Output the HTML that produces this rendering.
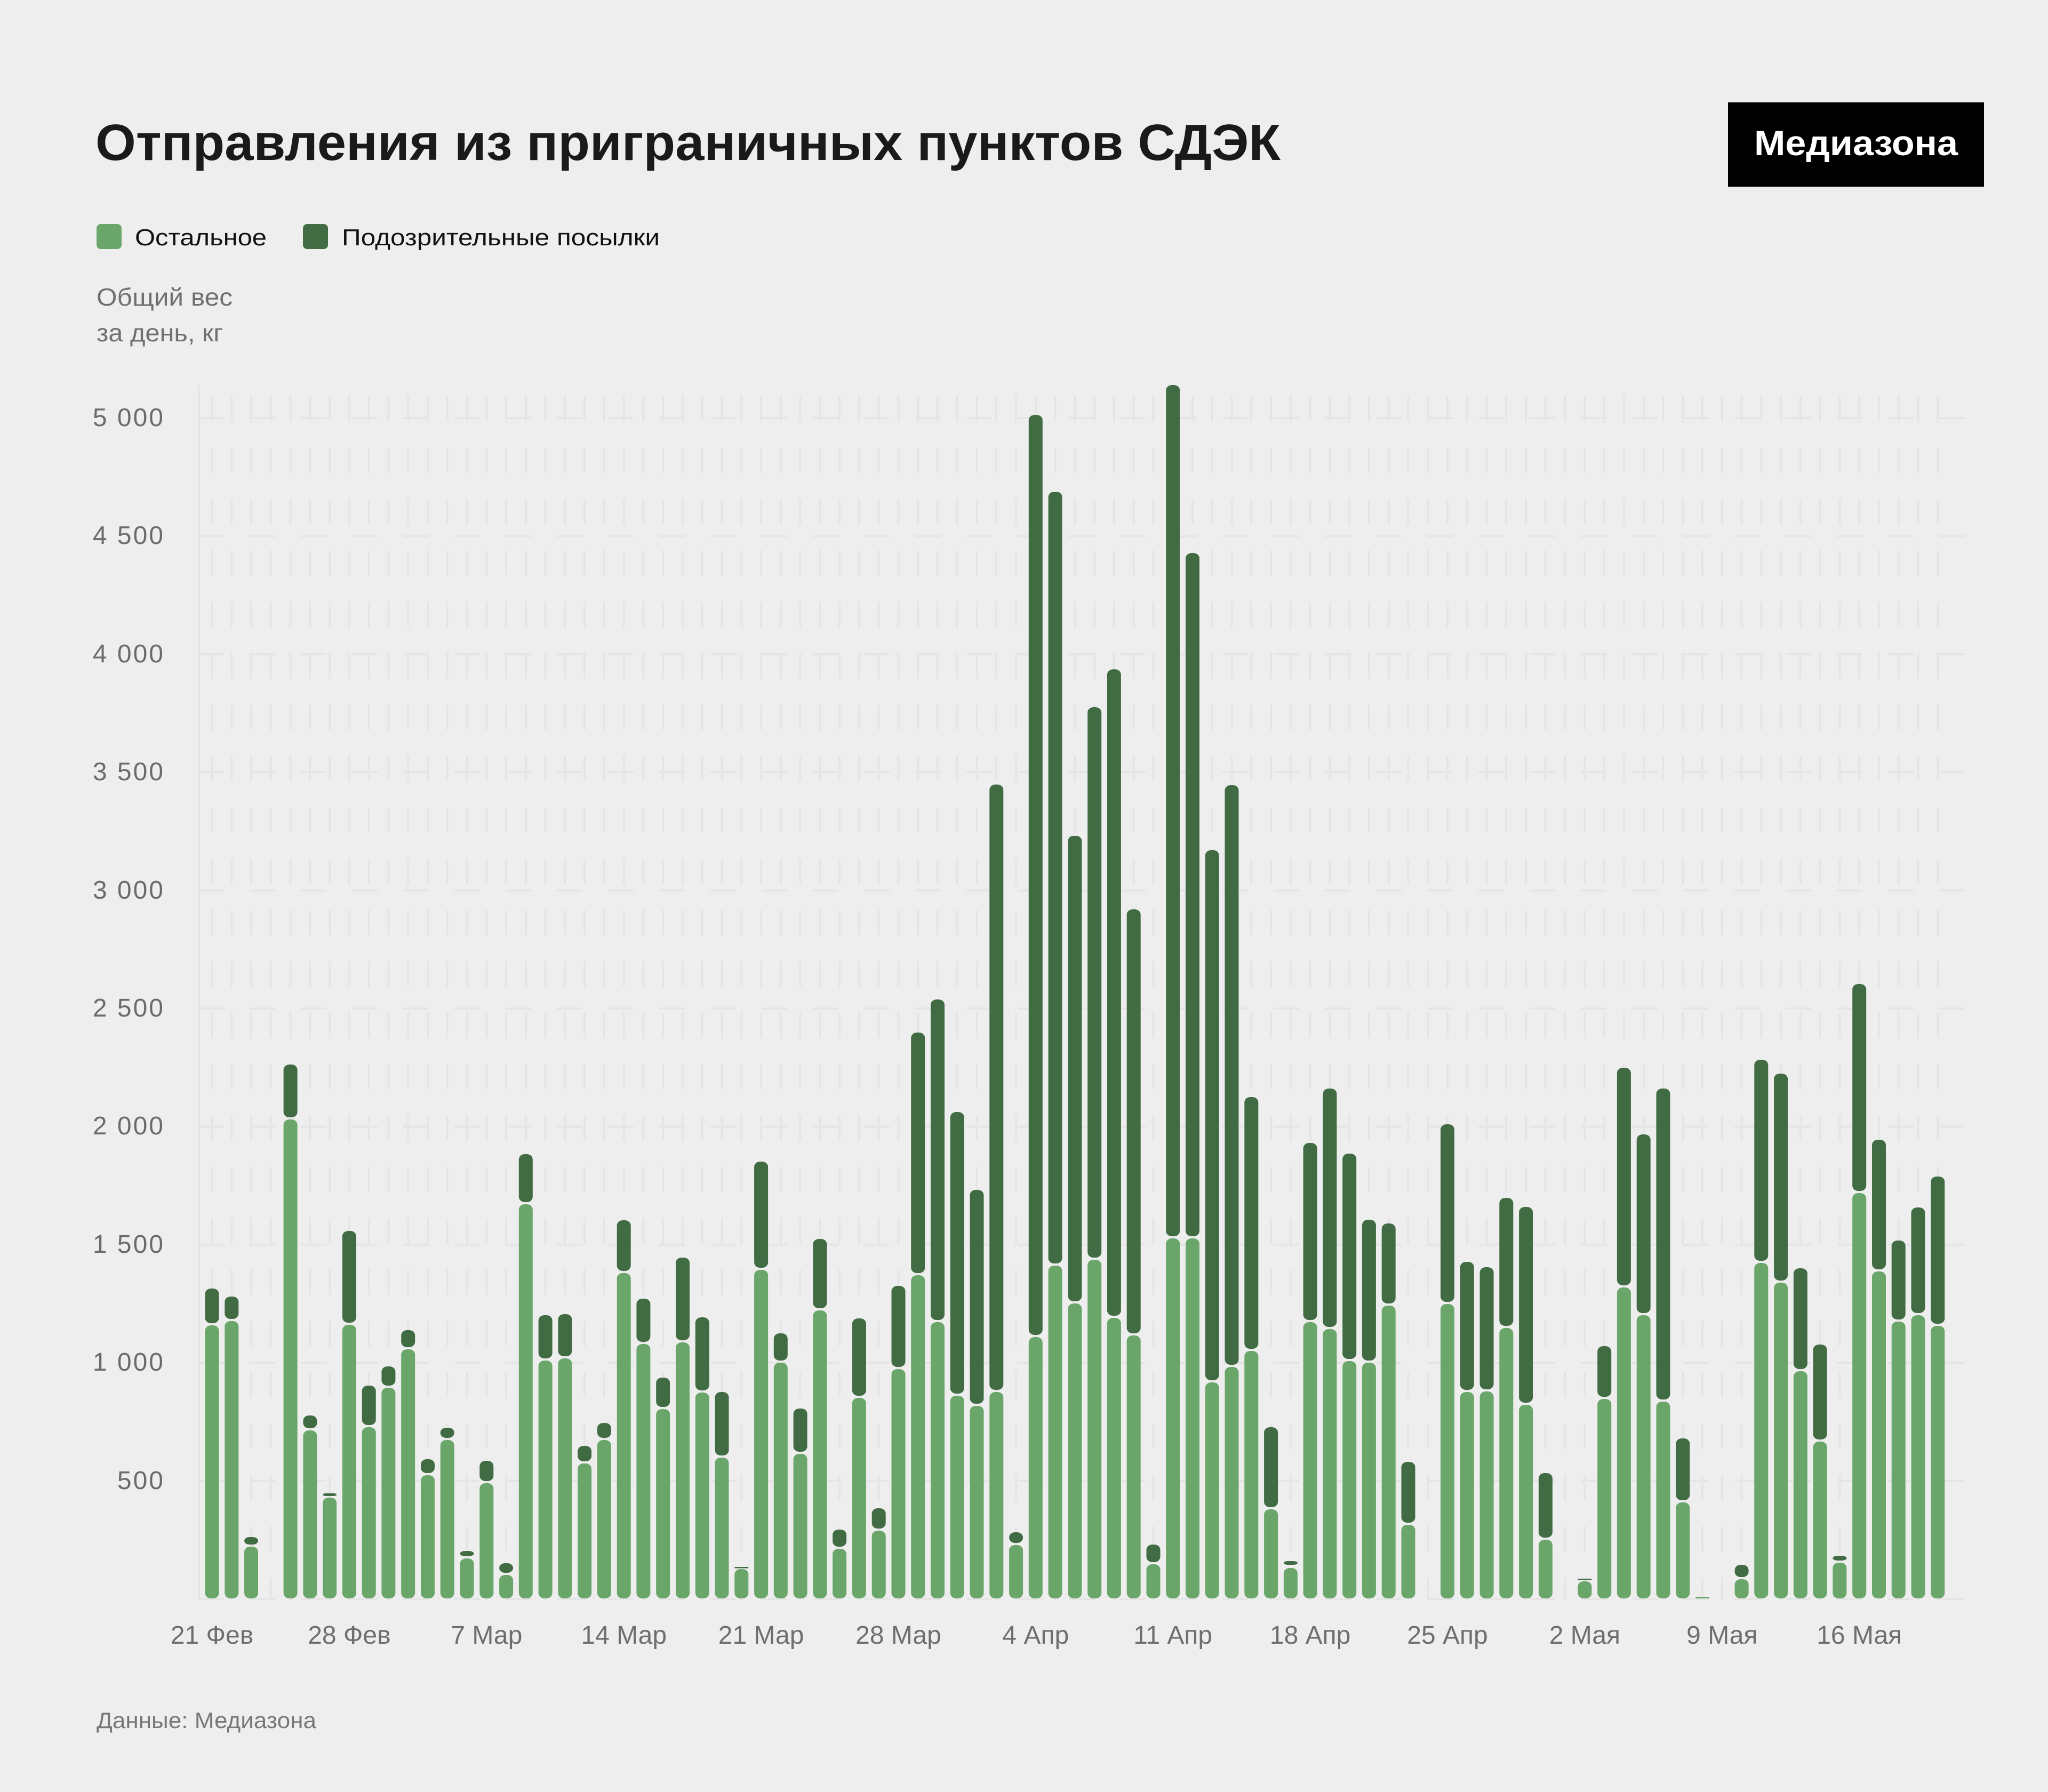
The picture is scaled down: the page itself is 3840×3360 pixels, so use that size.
<!DOCTYPE html>
<html><head><meta charset="utf-8"><style>
html,body{margin:0;padding:0;background:#eeeeee;}
svg{display:block;}
text{font-family:"Liberation Sans","Noto Sans CJK SC",sans-serif;}
</style></head><body>
<svg width="3840" height="3360" viewBox="0 0 3840 3360" xmlns="http://www.w3.org/2000/svg">
<defs>
<pattern id="vg" patternUnits="userSpaceOnUse" x="395.5" y="743" width="36.77" height="96.3"><rect x="0" y="0" width="4" height="48" fill="#e5e5e5"/></pattern>
<pattern id="hg" patternUnits="userSpaceOnUse" x="372" y="782" width="96" height="221.4"><rect x="0" y="0" width="48" height="4" fill="#e5e5e5"/></pattern>
</defs>
<rect width="3840" height="3360" fill="#eeeeee"/>
<text x="179" y="300" font-size="96" font-weight="bold" fill="#1a1a1a" textLength="2222" lengthAdjust="spacingAndGlyphs">Отправления из приграничных пунктов СДЭК</text>
<rect x="3240" y="192" width="480" height="158" fill="#000"/>
<text x="3289" y="291" font-size="66" font-weight="bold" fill="#fff" textLength="382" lengthAdjust="spacingAndGlyphs">Медиазона</text>
<rect x="181" y="420" width="47" height="47" rx="8" fill="#6aa66a"/>
<text x="253" y="460" font-size="44" fill="#111" textLength="247" lengthAdjust="spacingAndGlyphs">Остальное</text>
<rect x="568" y="420" width="47" height="47" rx="8" fill="#416c43"/>
<text x="641" y="460" font-size="44" fill="#111" textLength="596" lengthAdjust="spacingAndGlyphs">Подозрительные посылки</text>
<text x="181" y="573" font-size="46" fill="#707070" textLength="255" lengthAdjust="spacingAndGlyphs">Общий вес</text>
<text x="181" y="640" font-size="46" fill="#707070" textLength="237" lengthAdjust="spacingAndGlyphs">за день, кг</text>
<rect x="373" y="743" width="3280" height="2257" fill="url(#vg)"/>
<rect x="372" y="782" width="3312" height="2222" fill="url(#hg)"/>
<rect x="371" y="722" width="4" height="2278" fill="#e5e5e5"/>
<g font-size="48" fill="#6b6b6b" text-anchor="end" letter-spacing="3">
<text x="309" y="799">5 000</text>
<text x="309" y="1020">4 500</text>
<text x="309" y="1242">4 000</text>
<text x="309" y="1463">3 500</text>
<text x="309" y="1685">3 000</text>
<text x="309" y="1906">2 500</text>
<text x="309" y="2127">2 000</text>
<text x="309" y="2349">1 500</text>
<text x="309" y="2570">1 000</text>
<text x="309" y="2792">500</text>
</g>
<g fill="#6aa66a">
<rect x="384.5" y="2485" width="26" height="512" rx="11" ry="10"/>
<rect x="421.3" y="2477" width="26" height="520" rx="11" ry="10"/>
<rect x="458.0" y="2900" width="26" height="97" rx="11" ry="10"/>
<rect x="531.6" y="2099" width="26" height="898" rx="11" ry="10"/>
<rect x="568.4" y="2682" width="26" height="315" rx="11" ry="10"/>
<rect x="605.1" y="2808" width="26" height="189" rx="11" ry="10"/>
<rect x="641.9" y="2484" width="26" height="513" rx="11" ry="10"/>
<rect x="678.7" y="2676" width="26" height="321" rx="11" ry="10"/>
<rect x="715.4" y="2602" width="26" height="395" rx="11" ry="10"/>
<rect x="752.2" y="2530" width="26" height="467" rx="11" ry="10"/>
<rect x="789.0" y="2766" width="26" height="231" rx="11" ry="10"/>
<rect x="825.7" y="2700" width="26" height="297" rx="11" ry="10"/>
<rect x="862.5" y="2922" width="26" height="75" rx="11" ry="10"/>
<rect x="899.3" y="2781" width="26" height="216" rx="11" ry="10"/>
<rect x="936.1" y="2953" width="26" height="44" rx="11" ry="10"/>
<rect x="972.8" y="2258" width="26" height="739" rx="11" ry="10"/>
<rect x="1009.6" y="2551" width="26" height="446" rx="11" ry="10"/>
<rect x="1046.4" y="2547" width="26" height="450" rx="11" ry="10"/>
<rect x="1083.1" y="2744" width="26" height="253" rx="11" ry="10"/>
<rect x="1119.9" y="2700" width="26" height="297" rx="11" ry="10"/>
<rect x="1156.7" y="2387" width="26" height="610" rx="11" ry="10"/>
<rect x="1193.4" y="2520" width="26" height="477" rx="11" ry="10"/>
<rect x="1230.2" y="2642" width="26" height="355" rx="11" ry="10"/>
<rect x="1267.0" y="2517" width="26" height="480" rx="11" ry="10"/>
<rect x="1303.8" y="2611" width="26" height="386" rx="11" ry="10"/>
<rect x="1340.5" y="2733" width="26" height="264" rx="11" ry="10"/>
<rect x="1377.3" y="2942" width="26" height="55" rx="11" ry="10"/>
<rect x="1414.1" y="2381" width="26" height="616" rx="11" ry="10"/>
<rect x="1450.8" y="2555" width="26" height="442" rx="11" ry="10"/>
<rect x="1487.6" y="2726" width="26" height="271" rx="11" ry="10"/>
<rect x="1524.4" y="2457" width="26" height="540" rx="11" ry="10"/>
<rect x="1561.1" y="2904" width="26" height="93" rx="11" ry="10"/>
<rect x="1597.9" y="2621" width="26" height="376" rx="11" ry="10"/>
<rect x="1634.7" y="2870" width="26" height="127" rx="11" ry="10"/>
<rect x="1671.5" y="2567" width="26" height="430" rx="11" ry="10"/>
<rect x="1708.2" y="2391" width="26" height="606" rx="11" ry="10"/>
<rect x="1745.0" y="2479" width="26" height="518" rx="11" ry="10"/>
<rect x="1781.8" y="2617" width="26" height="380" rx="11" ry="10"/>
<rect x="1818.5" y="2636" width="26" height="361" rx="11" ry="10"/>
<rect x="1855.3" y="2610" width="26" height="387" rx="11" ry="10"/>
<rect x="1892.1" y="2897" width="26" height="100" rx="11" ry="10"/>
<rect x="1928.8" y="2507" width="26" height="490" rx="11" ry="10"/>
<rect x="1965.6" y="2373" width="26" height="624" rx="11" ry="10"/>
<rect x="2002.4" y="2444" width="26" height="553" rx="11" ry="10"/>
<rect x="2039.2" y="2362" width="26" height="635" rx="11" ry="10"/>
<rect x="2075.9" y="2471" width="26" height="526" rx="11" ry="10"/>
<rect x="2112.7" y="2504" width="26" height="493" rx="11" ry="10"/>
<rect x="2149.5" y="2933" width="26" height="64" rx="11" ry="10"/>
<rect x="2186.2" y="2322" width="26" height="675" rx="11" ry="10"/>
<rect x="2223.0" y="2322" width="26" height="675" rx="11" ry="10"/>
<rect x="2259.8" y="2592" width="26" height="405" rx="11" ry="10"/>
<rect x="2296.5" y="2563" width="26" height="434" rx="11" ry="10"/>
<rect x="2333.3" y="2533" width="26" height="464" rx="11" ry="10"/>
<rect x="2370.1" y="2830" width="26" height="167" rx="11" ry="10"/>
<rect x="2406.9" y="2940" width="26" height="57" rx="11" ry="10"/>
<rect x="2443.6" y="2479" width="26" height="518" rx="11" ry="10"/>
<rect x="2480.4" y="2492" width="26" height="505" rx="11" ry="10"/>
<rect x="2517.2" y="2552" width="26" height="445" rx="11" ry="10"/>
<rect x="2553.9" y="2555" width="26" height="442" rx="11" ry="10"/>
<rect x="2590.7" y="2448" width="26" height="549" rx="11" ry="10"/>
<rect x="2627.5" y="2859" width="26" height="138" rx="11" ry="10"/>
<rect x="2701.0" y="2445" width="26" height="552" rx="11" ry="10"/>
<rect x="2737.8" y="2610" width="26" height="387" rx="11" ry="10"/>
<rect x="2774.6" y="2609" width="26" height="388" rx="11" ry="10"/>
<rect x="2811.3" y="2490" width="26" height="507" rx="11" ry="10"/>
<rect x="2848.1" y="2634" width="26" height="363" rx="11" ry="10"/>
<rect x="2884.9" y="2887" width="26" height="110" rx="11" ry="10"/>
<rect x="2958.4" y="2965" width="26" height="32" rx="11" ry="10"/>
<rect x="2995.2" y="2623" width="26" height="374" rx="11" ry="10"/>
<rect x="3031.9" y="2414" width="26" height="583" rx="11" ry="10"/>
<rect x="3068.7" y="2466" width="26" height="531" rx="11" ry="10"/>
<rect x="3105.5" y="2628" width="26" height="369" rx="11" ry="10"/>
<rect x="3142.3" y="2817" width="26" height="180" rx="11" ry="10"/>
<rect x="3179.0" y="2994" width="26" height="3" rx="2" ry="1.5"/>
<rect x="3252.6" y="2961" width="26" height="36" rx="11" ry="10"/>
<rect x="3289.3" y="2368" width="26" height="629" rx="11" ry="10"/>
<rect x="3326.1" y="2405" width="26" height="592" rx="11" ry="10"/>
<rect x="3362.9" y="2571" width="26" height="426" rx="11" ry="10"/>
<rect x="3399.6" y="2703" width="26" height="294" rx="11" ry="10"/>
<rect x="3436.4" y="2930" width="26" height="67" rx="11" ry="10"/>
<rect x="3473.2" y="2237" width="26" height="760" rx="11" ry="10"/>
<rect x="3510.0" y="2384" width="26" height="613" rx="11" ry="10"/>
<rect x="3546.7" y="2478" width="26" height="519" rx="11" ry="10"/>
<rect x="3583.5" y="2466" width="26" height="531" rx="11" ry="10"/>
<rect x="3620.3" y="2486" width="26" height="511" rx="11" ry="10"/>
</g>
<g fill="#416c43">
<rect x="384.5" y="2416" width="26" height="65" rx="11" ry="10"/>
<rect x="421.3" y="2431" width="26" height="42" rx="11" ry="10"/>
<rect x="458.0" y="2882" width="26" height="14" rx="10" ry="7"/>
<rect x="531.6" y="1996" width="26" height="99" rx="11" ry="10"/>
<rect x="568.4" y="2654" width="26" height="24" rx="11" ry="10"/>
<rect x="605.1" y="2800" width="26" height="5" rx="6" ry="2.5"/>
<rect x="641.9" y="2308" width="26" height="172" rx="11" ry="10"/>
<rect x="678.7" y="2598" width="26" height="74" rx="11" ry="10"/>
<rect x="715.4" y="2562" width="26" height="36" rx="11" ry="10"/>
<rect x="752.2" y="2494" width="26" height="32" rx="11" ry="10"/>
<rect x="789.0" y="2736" width="26" height="26" rx="11" ry="10"/>
<rect x="825.7" y="2677" width="26" height="19" rx="11" ry="9"/>
<rect x="862.5" y="2908" width="26" height="10" rx="10" ry="5"/>
<rect x="899.3" y="2739" width="26" height="38" rx="11" ry="10"/>
<rect x="936.1" y="2931" width="26" height="18" rx="11" ry="9"/>
<rect x="972.8" y="2164" width="26" height="90" rx="11" ry="10"/>
<rect x="1009.6" y="2466" width="26" height="81" rx="11" ry="10"/>
<rect x="1046.4" y="2464" width="26" height="79" rx="11" ry="10"/>
<rect x="1083.1" y="2711" width="26" height="29" rx="11" ry="10"/>
<rect x="1119.9" y="2668" width="26" height="28" rx="11" ry="10"/>
<rect x="1156.7" y="2288" width="26" height="95" rx="11" ry="10"/>
<rect x="1193.4" y="2435" width="26" height="81" rx="11" ry="10"/>
<rect x="1230.2" y="2583" width="26" height="55" rx="11" ry="10"/>
<rect x="1267.0" y="2358" width="26" height="155" rx="11" ry="10"/>
<rect x="1303.8" y="2470" width="26" height="137" rx="11" ry="10"/>
<rect x="1340.5" y="2610" width="26" height="119" rx="11" ry="10"/>
<rect x="1377.3" y="2938" width="26" height="2.5" rx="2" ry="1"/>
<rect x="1414.1" y="2178" width="26" height="199" rx="11" ry="10"/>
<rect x="1450.8" y="2500" width="26" height="51" rx="11" ry="10"/>
<rect x="1487.6" y="2641" width="26" height="81" rx="11" ry="10"/>
<rect x="1524.4" y="2323" width="26" height="130" rx="11" ry="10"/>
<rect x="1561.1" y="2868" width="26" height="32" rx="11" ry="10"/>
<rect x="1597.9" y="2472" width="26" height="145" rx="11" ry="10"/>
<rect x="1634.7" y="2828" width="26" height="38" rx="11" ry="10"/>
<rect x="1671.5" y="2411" width="26" height="152" rx="11" ry="10"/>
<rect x="1708.2" y="1936" width="26" height="451" rx="11" ry="10"/>
<rect x="1745.0" y="1874" width="26" height="601" rx="11" ry="10"/>
<rect x="1781.8" y="2085" width="26" height="528" rx="11" ry="10"/>
<rect x="1818.5" y="2231" width="26" height="401" rx="11" ry="10"/>
<rect x="1855.3" y="1471" width="26" height="1135" rx="11" ry="10"/>
<rect x="1892.1" y="2873" width="26" height="20" rx="11" ry="10"/>
<rect x="1928.8" y="778" width="26" height="1725" rx="11" ry="10"/>
<rect x="1965.6" y="922" width="26" height="1447" rx="11" ry="10"/>
<rect x="2002.4" y="1567" width="26" height="873" rx="11" ry="10"/>
<rect x="2039.2" y="1326" width="26" height="1032" rx="11" ry="10"/>
<rect x="2075.9" y="1255" width="26" height="1212" rx="11" ry="10"/>
<rect x="2112.7" y="1705" width="26" height="795" rx="11" ry="10"/>
<rect x="2149.5" y="2896" width="26" height="33" rx="11" ry="10"/>
<rect x="2186.2" y="722" width="26" height="1596" rx="11" ry="10"/>
<rect x="2223.0" y="1037" width="26" height="1281" rx="11" ry="10"/>
<rect x="2259.8" y="1594" width="26" height="994" rx="11" ry="10"/>
<rect x="2296.5" y="1472" width="26" height="1087" rx="11" ry="10"/>
<rect x="2333.3" y="2057" width="26" height="472" rx="11" ry="10"/>
<rect x="2370.1" y="2676" width="26" height="150" rx="11" ry="10"/>
<rect x="2406.9" y="2927" width="26" height="7" rx="8" ry="3.5"/>
<rect x="2443.6" y="2143" width="26" height="332" rx="11" ry="10"/>
<rect x="2480.4" y="2041" width="26" height="447" rx="11" ry="10"/>
<rect x="2517.2" y="2163" width="26" height="385" rx="11" ry="10"/>
<rect x="2553.9" y="2287" width="26" height="264" rx="11" ry="10"/>
<rect x="2590.7" y="2294" width="26" height="150" rx="11" ry="10"/>
<rect x="2627.5" y="2741" width="26" height="114" rx="11" ry="10"/>
<rect x="2701.0" y="2108" width="26" height="333" rx="11" ry="10"/>
<rect x="2737.8" y="2366" width="26" height="240" rx="11" ry="10"/>
<rect x="2774.6" y="2376" width="26" height="229" rx="11" ry="10"/>
<rect x="2811.3" y="2246" width="26" height="240" rx="11" ry="10"/>
<rect x="2848.1" y="2263" width="26" height="367" rx="11" ry="10"/>
<rect x="2884.9" y="2762" width="26" height="121" rx="11" ry="10"/>
<rect x="2958.4" y="2960" width="26" height="2.5" rx="2" ry="1"/>
<rect x="2995.2" y="2524" width="26" height="95" rx="11" ry="10"/>
<rect x="3031.9" y="2002" width="26" height="408" rx="11" ry="10"/>
<rect x="3068.7" y="2127" width="26" height="335" rx="11" ry="10"/>
<rect x="3105.5" y="2041" width="26" height="583" rx="11" ry="10"/>
<rect x="3142.3" y="2697" width="26" height="116" rx="11" ry="10"/>
<rect x="3252.6" y="2934" width="26" height="23" rx="11" ry="10"/>
<rect x="3289.3" y="1987" width="26" height="377" rx="11" ry="10"/>
<rect x="3326.1" y="2013" width="26" height="388" rx="11" ry="10"/>
<rect x="3362.9" y="2378" width="26" height="189" rx="11" ry="10"/>
<rect x="3399.6" y="2521" width="26" height="178" rx="11" ry="10"/>
<rect x="3436.4" y="2917" width="26" height="9" rx="9" ry="4.5"/>
<rect x="3473.2" y="1845" width="26" height="388" rx="11" ry="10"/>
<rect x="3510.0" y="2137" width="26" height="243" rx="11" ry="10"/>
<rect x="3546.7" y="2326" width="26" height="148" rx="11" ry="10"/>
<rect x="3583.5" y="2264" width="26" height="198" rx="11" ry="10"/>
<rect x="3620.3" y="2206" width="26" height="276" rx="11" ry="10"/>
</g>
<g font-size="48" fill="#6e6e6e" text-anchor="middle">
<text x="397.5" y="3082">21 Фев</text>
<text x="654.9" y="3082">28 Фев</text>
<text x="912.3" y="3082">7 Мар</text>
<text x="1169.7" y="3082">14 Мар</text>
<text x="1427.1" y="3082">21 Мар</text>
<text x="1684.5" y="3082">28 Мар</text>
<text x="1941.8" y="3082">4 Апр</text>
<text x="2199.2" y="3082">11 Апр</text>
<text x="2456.6" y="3082">18 Апр</text>
<text x="2714.0" y="3082">25 Апр</text>
<text x="2971.4" y="3082">2 Мая</text>
<text x="3228.8" y="3082">9 Мая</text>
<text x="3486.2" y="3082">16 Мая</text>
</g>
<text x="181" y="3240" font-size="42" fill="#777" textLength="412" lengthAdjust="spacingAndGlyphs">Данные: Медиазона</text>
</svg>
</body></html>
